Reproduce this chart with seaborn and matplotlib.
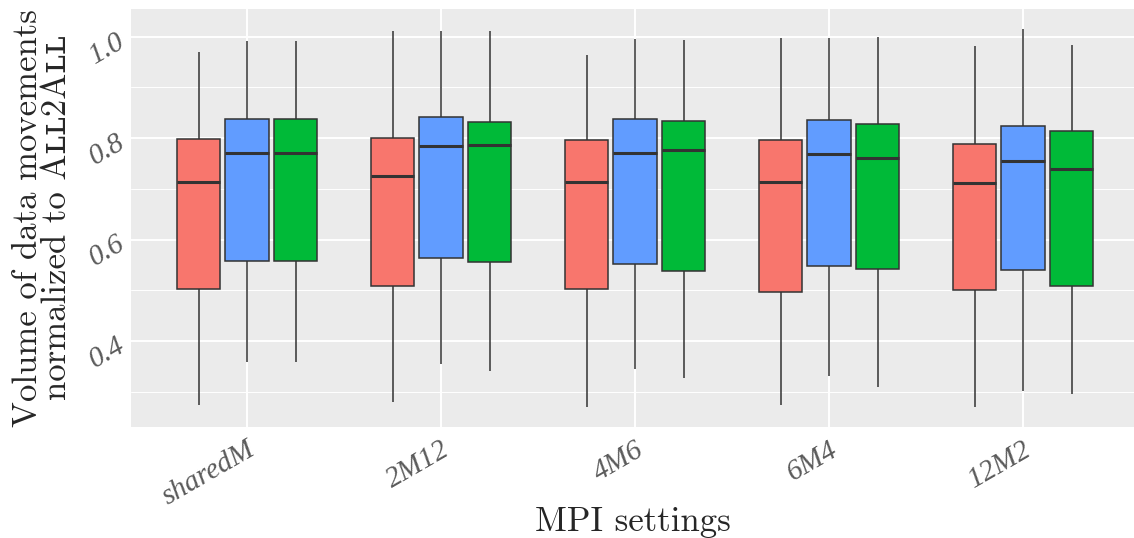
import numpy as np
import pandas as pd
import matplotlib
matplotlib.use("Agg")
import matplotlib.pyplot as plt
import seaborn as sns

# five-number summaries: min, q1, median, q3, max
settings = ["sharedM", "2M12", "4M6", "6M4", "12M2"]
variants = ["A", "B", "C"]
palette = ["#F8766D", "#619CFF", "#00BA38"]

red = [
    [0.274, 0.502, 0.714, 0.799, 0.970],
    [0.280, 0.508, 0.725, 0.801, 1.011],
    [0.270, 0.502, 0.714, 0.797, 0.964],
    [0.273, 0.497, 0.714, 0.797, 0.998],
    [0.270, 0.501, 0.712, 0.789, 0.982],
]
blue = [
    [0.358, 0.558, 0.771, 0.837, 0.992],
    [0.355, 0.564, 0.785, 0.842, 1.011],
    [0.345, 0.551, 0.771, 0.837, 0.995],
    [0.331, 0.547, 0.768, 0.836, 0.998],
    [0.302, 0.539, 0.754, 0.824, 1.015],
]
green = [
    [0.358, 0.558, 0.771, 0.837, 0.992],
    [0.340, 0.555, 0.787, 0.832, 1.011],
    [0.327, 0.537, 0.776, 0.834, 0.994],
    [0.309, 0.541, 0.760, 0.827, 1.000],
    [0.296, 0.509, 0.739, 0.815, 0.984],
]

rows = []
for v, series in zip(variants, [red, blue, green]):
    for s, vals in zip(settings, series):
        for x in vals:
            rows.append({"setting": s, "variant": v, "value": x})
df = pd.DataFrame(rows)

sns.set_style("darkgrid", {"axes.facecolor": "#EBEBEB", "grid.color": "white"})
plt.rcParams["font.family"] = ["cmr10", "DejaVu Serif"]
plt.rcParams["axes.formatter.use_mathtext"] = True

fig = plt.figure(figsize=(11.34, 5.38), dpi=100)
ax = fig.add_axes([131 / 1134, 1 - 427 / 538, 1003 / 1134, 418 / 538])

sns.boxplot(data=df, x="setting", y="value", hue="variant", order=settings,
            hue_order=variants, palette=palette, width=0.75, gap=0.1,
            whis=(0, 100), showcaps=False, fliersize=0, linecolor="#333333",
            linewidth=1.1, saturation=1, medianprops={"linewidth": 2.2},
            legend=False, ax=ax)

ax.set_xlim(-0.598, -0.598 + 1003 / 194)
ax.set_ylim(0.2303, 1.0547)
ax.set_yticks([0.4, 0.6, 0.8, 1.0])
ax.set_yticks([0.3, 0.5, 0.7, 0.9], minor=True)
ax.set_yticklabels(["0.4", "0.6", "0.8", "1.0"])
ax.grid(True, which="major", color="white", linewidth=1.4)
ax.grid(True, which="minor", axis="y", color="white", linewidth=0.7)
ax.set_axisbelow(True)
for sp in ax.spines.values():
    sp.set_visible(False)

ax.tick_params(axis="both", which="major", length=4, width=1, color="#333333",
               labelcolor="#5A5A5A", labelsize=21, pad=3)
ax.tick_params(axis="y", which="minor", length=0)
for lab in ax.get_xticklabels() + ax.get_yticklabels():
    lab.set_family(["Liberation Serif", "DejaVu Serif"])
    lab.set_style("italic")
    lab.set_rotation(30)
    lab.set_ha("right")
    lab.set_rotation_mode("anchor")

ax.set_xlabel("MPI settings", fontsize=25)
ax.xaxis.set_label_coords(0.5, -0.19)
ax.set_ylabel("Volume of data movements\nnormalized to Aʟʟ2Aʟʟ", fontsize=25,
              linespacing=0.88)
ax.yaxis.set_label_coords(-0.058, 0.5)

fig.savefig("out.png", dpi=100)
